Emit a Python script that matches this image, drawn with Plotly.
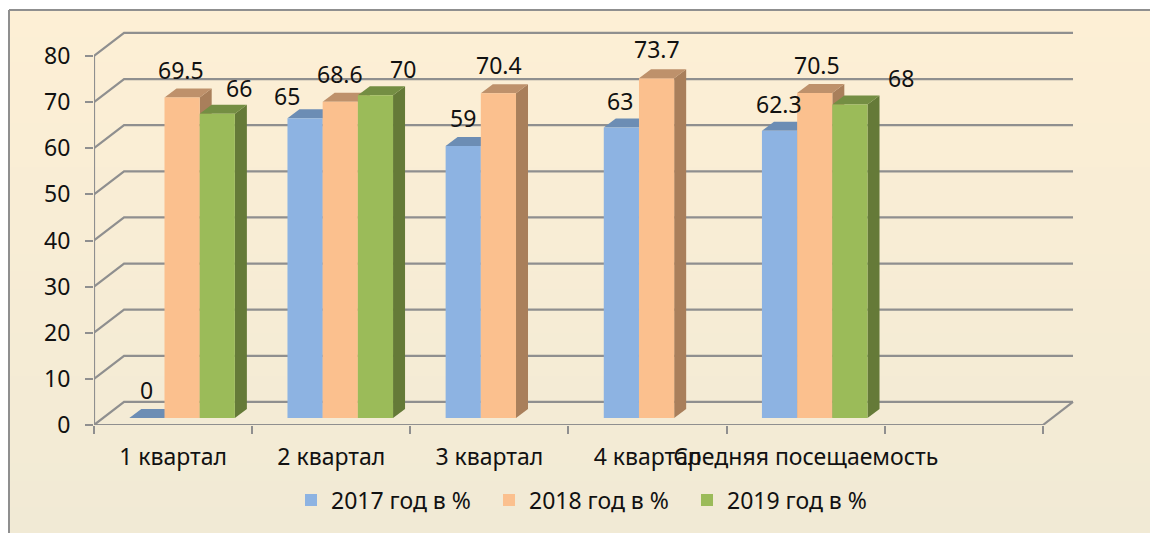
import plotly.graph_objects as go

categories = ["1 квартал", "2 квартал", "3 квартал", "4 квартал", "Средняя посещаемость"]
series_names = ["2017 год в %", "2018 год в %", "2019 год в %"]
v2017 = [0, 65, 59, 63, 62.3]
v2018 = [69.5, 68.6, 70.4, 73.7, 70.5]
v2019 = [66, 70, None, None, 68]
series_values = [v2017, v2018, v2019]
y_ticks = [0, 10, 20, 30, 40, 50, 60, 70, 80]

# styles
front = ["#8DB3E2", "#FBC08E", "#9BBB59"]
top = ["#6C8DB4", "#BE916B", "#748E43"]
side = ["#5F7CA0", "#A97F5B", "#657A38"]
grid = "#8F8F8F"
text_c = "#111111"
FONT = "Noto Sans"
FS = 23

# 3-D construction in data units
bar_w = 0.2225
group_shift = 0.057
base = 1.5
dx, dy = 0.0759, 1.95
wall_dx, wall_dy = 0.19, 5.0
# hand-placed label offsets of the reference (px) for each series
label_dx = [[0, -18, 0, -1, -1], [-1, 0, 1, 0, 2], [22, 28, 0, 0, 51]]
label_dy = [[28, 22, 28, 26, 27], [28, 28, 28, 29, 28], [26, 26, 0, 0, 26]]

fig = go.Figure()

# Axis frame, back wall and left wall gridlines
xs, ys = [-0.5, -0.5, None, -0.5, 5.5, None], [0, 80, None, 0, 0, None]
for t in y_ticks:
    xs += [-0.5, -0.5 + wall_dx, 5.5 + wall_dx, None]
    ys += [t, t + wall_dy, t + wall_dy, None]
xs += [5.5, 5.5 + wall_dx, None]
ys += [0, wall_dy, None]
fig.add_trace(go.Scatter(x=xs, y=ys, mode="lines", line=dict(color=grid, width=2.2),
                         cliponaxis=False, showlegend=False, hoverinfo="skip", zorder=0))

# Side and top faces
for s, vals in enumerate(series_values):
    off = -1.5 * bar_w + group_shift + s * bar_w
    for c, v in enumerate(vals):
        if v is None:
            continue
        x0 = c + off
        x1 = x0 + bar_w
        h = base + v
        if v > 0:
            fig.add_trace(go.Scatter(
                x=[x1, x1, x1 + dx, x1 + dx, x1], y=[base, h, h + dy, base + dy, base],
                mode="lines", fill="toself", fillcolor=side[s], line=dict(width=0),
                cliponaxis=False, showlegend=False, hoverinfo="skip", zorder=1))
        fig.add_trace(go.Scatter(
            x=[x0, x1, x1 + dx, x0 + dx, x0], y=[h, h, h + dy, h + dy, h],
            mode="lines", fill="toself", fillcolor=top[s], line=dict(width=0),
            cliponaxis=False, showlegend=False, hoverinfo="skip", zorder=1))

# Front faces
for s, vals in enumerate(series_values):
    off = -1.5 * bar_w + group_shift + s * bar_w
    fig.add_trace(go.Bar(x=list(range(len(categories))), y=vals, base=base, width=bar_w, offset=off,
                         name=series_names[s], marker=dict(color=front[s], line=dict(width=0)),
                         cliponaxis=False, zorder=2))
    for c, v in enumerate(vals):
        if v is None:
            continue
        fig.add_annotation(x=c + off + bar_w / 2, y=base + v, text=str(v), showarrow=False,
                           xref="x", yref="y", xshift=label_dx[s][c], yshift=label_dy[s][c],
                           font=dict(family=FONT, size=FS, color=text_c))

# Panel with vertical gradient: overlapping bands, each reaching the panel bottom
N = 60
c0, c1 = (0xFD, 0xEF, 0xD5), (0xF1, 0xEA, 0xD5)
PW, PH = 984.0, 397.0
def px(v): return (v - 94) / PW
def py(v): return (425 - v) / PH
shapes = []
for i in range(N):
    t = i / (N - 1)
    col = "rgb(%d,%d,%d)" % tuple(round(a + (b - a) * t) for a, b in zip(c0, c1))
    shapes.append(dict(type="rect", xref="paper", yref="paper", layer="below",
                       x0=px(9), x1=px(1150), y0=py(533), y1=py(10 + (533 - 10) * i / N),
                       line=dict(width=0), fillcolor=col))
shapes.append(dict(type="line", xref="paper", yref="paper", layer="below",
                   x0=px(9), x1=px(1150), y0=py(10), y1=py(10), line=dict(color=grid, width=2)))
shapes.append(dict(type="line", xref="paper", yref="paper", layer="below",
                   x0=px(9), x1=px(9), y0=py(10), y1=py(533), line=dict(color=grid, width=2)))

fig.update_layout(
    width=1150, height=533, autosize=False,
    margin=dict(l=94, r=72, t=28, b=108, autoexpand=False),
    paper_bgcolor="white", plot_bgcolor="rgba(0,0,0,0)",
    barmode="overlay", shapes=shapes,
    font=dict(family=FONT, size=FS, color=text_c),
    showlegend=True,
    legend=dict(orientation="h", x=0.2002, xanchor="left", y=-0.189, yanchor="middle",
                entrywidth=153, entrywidthmode="pixels",
                bgcolor="rgba(0,0,0,0)", font=dict(family=FONT, size=FS, color=text_c),
                itemclick=False, itemdoubleclick=False),
    xaxis=dict(range=[-0.5, 5.7216], tickmode="array", tickvals=list(range(len(categories))),
               ticktext=categories, tickangle=0, ticks="", showgrid=False, showline=False,
               zeroline=False, ticklabelstandoff=16,
               minor=dict(tickmode="array", tickvals=[i - 0.5 for i in range(7)], ticks="outside",
                          ticklen=8, tickwidth=2, tickcolor=grid, showgrid=False)),
    yaxis=dict(range=[0, 86.07], tickmode="array", tickvals=y_ticks, ticks="outside", ticklen=8,
               tickwidth=2, tickcolor=grid, showgrid=False, showline=False,
               zeroline=False, ticklabelstandoff=10),
)

fig.write_html("out.html", post_script="document.body.style.margin='0';",
               config={"displayModeBar": False})
